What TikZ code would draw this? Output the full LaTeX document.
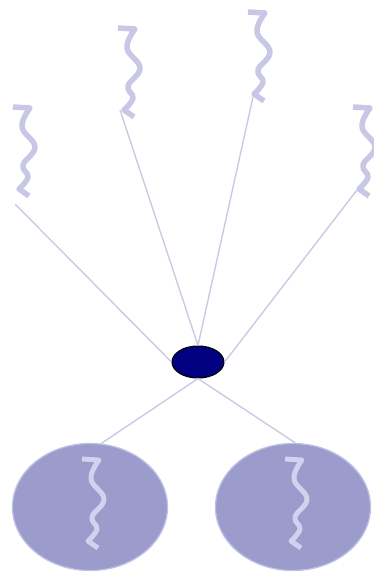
\documentclass[tikz,border=0pt]{standalone}
\usetikzlibrary{shapes.geometric}
\definecolor{wavecol}{RGB}{200,200,230}
\definecolor{innerwave}{RGB}{210,210,238}
\definecolor{linkcol}{RGB}{202,202,228}
\definecolor{ballfill}{RGB}{155,155,204}
\definecolor{ballline}{RGB}{192,192,230}
\definecolor{hubfill}{RGB}{0,0,128}
\tikzset{
  squiggle/.pic={
    \draw[#1] (0,0) -- plot[smooth, tension=.7] coordinates {(17,1) (9,20) (22,40) (10,58) (15,70) (6,82)} -- (16,89);
  }
}
\begin{document}
\begin{tikzpicture}[x=1pt, y=-1pt,
    wave/.style={line width=5.5pt, wavecol, line cap=butt, line join=round},
    wavein/.style={line width=5pt, innerwave, line cap=butt, line join=round},
    link/.style={line width=1.4pt, linkcol},
    ball/.style={ellipse, fill=ballfill, draw=ballline, line width=1.3pt, minimum width=155pt, minimum height=127pt, inner sep=0pt},
    hub/.style={ellipse, fill=hubfill, draw=black, line width=1.1pt, minimum width=52pt, minimum height=32pt, inner sep=0pt}]
    \useasboundingbox (0,0) rectangle (374,571);

    % wiggles on top
    \foreach \wx/\wy in {13/107, 118/28, 248/12, 353/107} {
        \pic at (\wx,\wy) {squiggle=wave};
    }
    \coordinate (w1) at (15,204);
    \coordinate (w2) at (120,110);
    \coordinate (w3) at (253,97);
    \coordinate (w4) at (357,190);

    \node[hub] (hub) at (198,362) {};
    \node[ball] (lb) at (90,507) {};
    \node[ball] (rb) at (293,507) {};

    \draw[link] (w1) -- (hub.west);
    \draw[link] (w2) -- (hub.north);
    \draw[link] (w3) -- (hub.north);
    \draw[link] (w4) -- (hub.east);
    \draw[link] (hub.south) -- (lb.80);
    \draw[link] (hub.south) -- (rb.88);

    \pic at (82,459) {squiggle=wavein};
    \pic at (285,459) {squiggle=wavein};
\end{tikzpicture}
\end{document}
